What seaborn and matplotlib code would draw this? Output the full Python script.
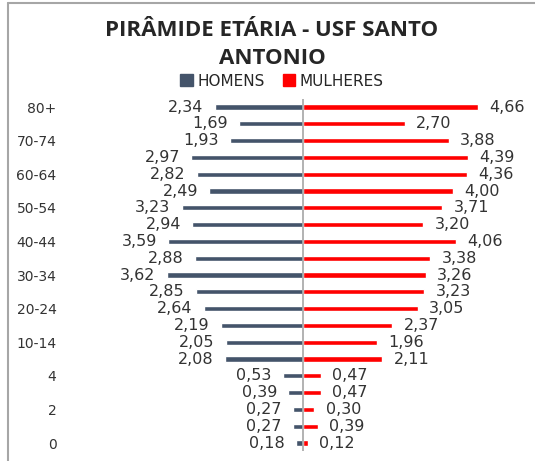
"""
Population pyramid - USF Santo Antonio
"""

import matplotlib
matplotlib.use("Agg")
import matplotlib.pyplot as plt
import matplotlib.patches as mpatches
import seaborn as sns
import pandas as pd

# Data (percent of population, top row first)
age_groups = ["80+", "75-79", "70-74", "65-69", "60-64", "55-59", "50-54",
              "45-49", "40-44", "35-39", "30-34", "25-29", "20-24", "15-19",
              "10-14", "5-9", "4", "3", "2", "1", "0"]
homens = [2.34, 1.69, 1.93, 2.97, 2.82, 2.49, 3.23, 2.94, 3.59, 2.88, 3.62,
          2.85, 2.64, 2.19, 2.05, 2.08, 0.53, 0.39, 0.27, 0.27, 0.18]
mulheres = [4.66, 2.70, 3.88, 4.39, 4.36, 4.00, 3.71, 3.20, 4.06, 3.38, 3.26,
            3.23, 3.05, 2.37, 1.96, 2.11, 0.47, 0.47, 0.30, 0.39, 0.12]

COLOR_M = "#44546A"
COLOR_F = "#FF0000"

sns.set_theme(style="white")
plt.rcParams["font.family"] = ["DejaVu Sans"]

df = pd.DataFrame({"idade": age_groups,
                   "homens": [-v for v in homens],
                   "mulheres": mulheres})

W, H = 535, 461
fig = plt.figure(figsize=(W / 100, H / 100), dpi=100)

# axes placed in pixel terms: center at x=303, 37.6 px per unit
x0, x1 = 62, 535
y_top, y_bot = 98.6, 451.4
ax = fig.add_axes([x0 / W, 1 - y_bot / H, (x1 - x0) / W, (y_bot - y_top) / H])

sns.barplot(data=df, y="idade", x="homens", color=COLOR_M, width=0.3,
            saturation=1, ax=ax, order=age_groups)
sns.barplot(data=df, y="idade", x="mulheres", color=COLOR_F, width=0.3,
            saturation=1, ax=ax, order=age_groups)

scale = 37.6
ax.set_xlim(-(303 - x0) / scale, (x1 - 303) / scale)
ax.set_ylim(len(age_groups) - 0.5, -0.5)

# value labels with comma decimals
for i, (m, f) in enumerate(zip(homens, mulheres)):
    ax.text(-m - 0.3, i, f"{m:.2f}".replace(".", ","), ha="right",
            va="center", fontsize=11.5, color="#333333")
    ax.text(f + 0.3, i, f"{f:.2f}".replace(".", ","), ha="left",
            va="center", fontsize=11.5, color="#333333")

ax.axvline(0, color="#A6A6A6", lw=1.2)

ax.set_yticks(range(len(age_groups)))
ax.set_yticklabels([a if i % 2 == 0 else "" for i, a in enumerate(age_groups)],
                   fontsize=10, color="#333333")
ax.tick_params(axis="y", length=0, pad=4)
ax.set_xticks([])
ax.set_xlabel("")
ax.set_ylabel("")
for s in ax.spines.values():
    s.set_visible(False)

# title and legend
title_font = ["Open Sans", "DejaVu Sans"]
fig.text(272 / W, 1 - 31 / H, "PIRÂMIDE ETÁRIA - USF SANTO", ha="center",
         va="center", fontsize=16, fontweight="bold", color="#262626",
         family=title_font)
fig.text(272 / W, 1 - 58 / H, "ANTONIO", ha="center", va="center",
         fontsize=16, fontweight="bold", color="#262626", family=title_font)
handles = [mpatches.Patch(color=COLOR_M, label="HOMENS"),
           mpatches.Patch(color=COLOR_F, label="MULHERES")]
fig.legend(handles=handles, loc="center", bbox_to_anchor=(282 / W, 1 - 81 / H),
           ncol=2, frameon=False, fontsize=11, handlelength=0.8,
           handleheight=0.8, handletextpad=0.3, columnspacing=1.2)

# chart frame (left and top border visible in the crop)
fig.add_artist(plt.Line2D([8 / W, 8 / W], [0, 1 - 3 / H],
                          transform=fig.transFigure, color="#A6A6A6", lw=1.5))
fig.add_artist(plt.Line2D([8 / W, 1], [1 - 3 / H, 1 - 3 / H],
                          transform=fig.transFigure, color="#A6A6A6", lw=1.5))

fig.savefig("out.png", dpi=100, facecolor="white")
